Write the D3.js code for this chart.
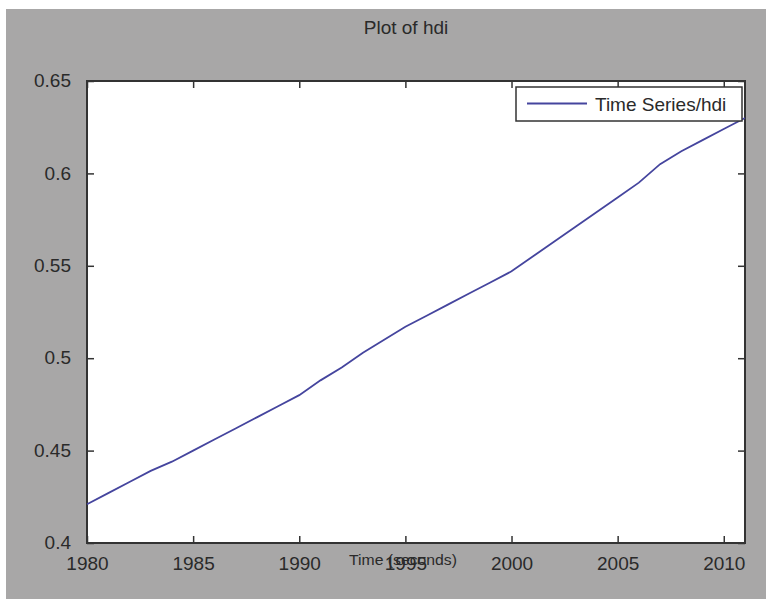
<!DOCTYPE html>
<html>
<head>
<meta charset="utf-8">
<script src="https://cdn.jsdelivr.net/npm/d3@7"></script>
<style>
  html, body { margin: 0; padding: 0; background: #ffffff; }
  svg { display: block; }
  text { font-family: "Liberation Sans", Arial, sans-serif; fill: #2a2a2a; }
</style>
</head>
<body>
<svg id="chart" width="766" height="599"></svg>
<script>
// ---- data ----
const years = [1980,1981,1982,1983,1984,1985,1986,1987,1988,1989,1990,1991,1992,1993,1994,1995,
               1996,1997,1998,1999,2000,2001,2002,2003,2004,2005,2006,2007,2008,2009,2010,2011];
const hdi = [0.421,0.427,0.433,0.439,0.444,0.450,0.456,0.462,0.468,0.474,0.480,0.488,0.495,0.503,0.510,0.517,
             0.523,0.529,0.535,0.541,0.547,0.555,0.563,0.571,0.579,0.587,0.595,0.605,0.612,0.618,0.624,0.630];
const xTicks = [1980,1985,1990,1995,2000,2005,2010];
const yTicks = [0.4,0.45,0.5,0.55,0.6,0.65];
const yTickLabels = ["0.4","0.45","0.5","0.55","0.6","0.65"];
const titleText = "Plot of hdi";
const xLabelText = "Time (seconds)";
const legendText = "Time Series/hdi";

// ---- layout ----
const svg = d3.select("#chart");
const plot = {left: 87, top: 81, right: 745, bottom: 543};

svg.append("rect").attr("x", 6).attr("y", 9).attr("width", 760).attr("height", 590).attr("fill", "#a8a7a7");

const x = d3.scaleLinear().domain([1980, 2011]).range([plot.left, plot.right]);
const y = d3.scaleLinear().domain([0.4, 0.65]).range([plot.bottom, plot.top]);

svg.append("rect").attr("x", plot.left).attr("y", plot.top)
   .attr("width", plot.right - plot.left).attr("height", plot.bottom - plot.top)
   .attr("fill", "#ffffff");

const axisColor = "#333333";
const tickLen = 7;

// bottom axis (ticks inward)
const gB = svg.append("g").attr("transform", `translate(0,${plot.bottom})`)
  .call(d3.axisBottom(x).tickValues(xTicks).tickFormat(d3.format("d")).tickSize(-tickLen).tickPadding(13));
// top axis ticks
const gT = svg.append("g").attr("transform", `translate(0,${plot.top})`)
  .call(d3.axisTop(x).tickValues(xTicks).tickFormat("").tickSize(-tickLen));
// left axis
const gL = svg.append("g").attr("transform", `translate(${plot.left},0)`)
  .call(d3.axisLeft(y).tickValues(yTicks).tickFormat((d, i) => yTickLabels[i]).tickSize(-tickLen).tickPadding(16));
// right axis ticks
const gR = svg.append("g").attr("transform", `translate(${plot.right},0)`)
  .call(d3.axisRight(y).tickValues(yTicks).tickFormat("").tickSize(-tickLen));

[gB, gT, gL, gR].forEach(g => {
  g.select(".domain").remove();
  g.selectAll(".tick line").attr("stroke", axisColor).attr("stroke-width", 1.5);
  g.selectAll(".tick text").attr("fill", "#2a2a2a")
    .style("font-family", '"Liberation Sans", Arial, sans-serif').style("font-size", "19px");
});
gL.selectAll(".tick text").attr("dy", "0.3em");
gB.selectAll(".tick text").attr("dy", "0.72em");

// x label (drawn under, overlapped by tick label like the original)
svg.append("text").attr("x", 403).attr("y", 565).attr("text-anchor", "middle")
  .style("font-size", "14px").attr("textLength", 108).attr("lengthAdjust", "spacingAndGlyphs")
  .text(xLabelText);
gB.raise();

// frame
svg.append("rect").attr("x", plot.left).attr("y", plot.top)
   .attr("width", plot.right - plot.left).attr("height", plot.bottom - plot.top)
   .attr("fill", "none").attr("stroke", axisColor).attr("stroke-width", 2);

// line
const line = d3.line().x((d, i) => x(years[i])).y(d => y(d));
svg.append("path").datum(hdi).attr("d", line)
   .attr("fill", "none").attr("stroke", "#45459e").attr("stroke-width", 1.8);

// legend
const leg = svg.append("g");
leg.append("rect").attr("x", 516).attr("y", 87).attr("width", 226).attr("height", 34)
   .attr("fill", "#ffffff").attr("stroke", axisColor).attr("stroke-width", 1.5);
leg.append("line").attr("x1", 527).attr("x2", 587).attr("y1", 103.5).attr("y2", 103.5)
   .attr("stroke", "#45459e").attr("stroke-width", 1.8);
leg.append("text").attr("x", 595).attr("y", 110.5).style("font-size", "19px").text(legendText);

// title
svg.append("text").attr("x", 406).attr("y", 33.5).attr("text-anchor", "middle")
  .style("font-size", "19px").text(titleText);
</script>
</body>
</html>
